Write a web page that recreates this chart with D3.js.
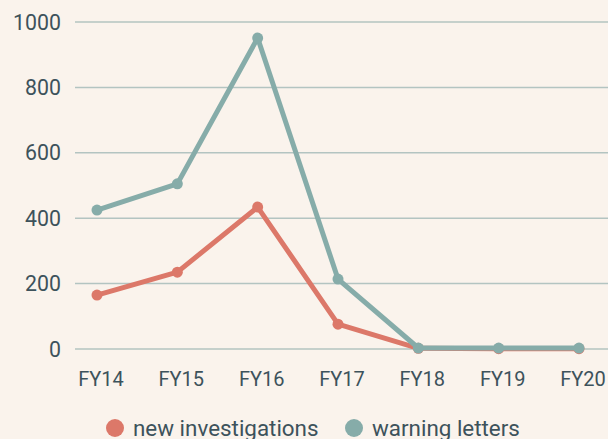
<!DOCTYPE html>
<html>
<head>
<meta charset="utf-8">
<script src="https://cdn.jsdelivr.net/npm/d3@7"></script>
<style>
  body { margin: 0; background: #faf3ec; }
  svg { display: block; font-family: Roboto, "Noto Sans", sans-serif; }
</style>
</head>
<body>
<div id="chart"></div>
<script>
var years = ["FY14", "FY15", "FY16", "FY17", "FY18", "FY19", "FY20"];
var newInvestigations = [165, 235, 434, 76, 2, 1, 1];
var warningLetters = [425, 505, 951, 214, 3, 3, 3];
var yTicks = [0, 200, 400, 600, 800, 1000];

var svgWidth = 608;
var svgHeight = 439;

var svg = d3.select("#chart")
  .append("svg")
  .attr("width", svgWidth)
  .attr("height", svgHeight);

var xScale = d3.scalePoint()
  .domain(years)
  .range([97, 579]);

var yScale = d3.scaleLinear()
  .domain([0, 1000])
  .range([349, 22]);

// gridlines + y labels
var grid = svg.append("g").selectAll("g")
  .data(yTicks)
  .enter()
  .append("g");

grid.append("line")
  .attr("x1", 75)
  .attr("x2", svgWidth)
  .attr("y1", d => yScale(d))
  .attr("y2", d => yScale(d))
  .attr("stroke", "#b3c4c1")
  .attr("stroke-width", 1.5);

grid.append("text")
  .attr("x", 61)
  .attr("y", d => yScale(d))
  .attr("dy", "0.36em")
  .attr("text-anchor", "end")
  .attr("font-size", 21.3)
  .attr("fill", "#3d525b")
  .text(d => d);

// x labels
svg.append("g").selectAll("text")
  .data(years)
  .enter()
  .append("text")
  .attr("x", d => xScale(d) + 4)
  .attr("y", 386)
  .attr("text-anchor", "middle")
  .attr("font-size", 20)
  .attr("fill", "#3d525b")
  .text(d => d);

var series = [
  { name: "new investigations", values: newInvestigations, color: "#dc7869" },
  { name: "warning letters", values: warningLetters, color: "#86aca9" }
];

var line = d3.line()
  .x((d, i) => xScale(years[i]))
  .y(d => yScale(d));

series.forEach(function(s) {
  svg.append("path")
    .datum(s.values)
    .attr("fill", "none")
    .attr("stroke", s.color)
    .attr("stroke-width", 5)
    .attr("stroke-linejoin", "round")
    .attr("d", line);

  svg.append("g").selectAll("circle")
    .data(s.values)
    .enter()
    .append("circle")
    .attr("cx", (d, i) => xScale(years[i]))
    .attr("cy", d => yScale(d))
    .attr("r", 5.5)
    .attr("fill", s.color);
});

// legend
var legend = svg.append("g");
var legendX = [115, 354];
series.forEach(function(s, i) {
  legend.append("circle")
    .attr("cx", legendX[i])
    .attr("cy", 428)
    .attr("r", 9)
    .attr("fill", s.color);
  legend.append("text")
    .attr("x", legendX[i] + 18)
    .attr("y", 428)
    .attr("dy", "0.36em")
    .attr("font-size", 22.4)
    .attr("fill", "#3d525b")
    .text(s.name);
});
</script>
</body>
</html>
